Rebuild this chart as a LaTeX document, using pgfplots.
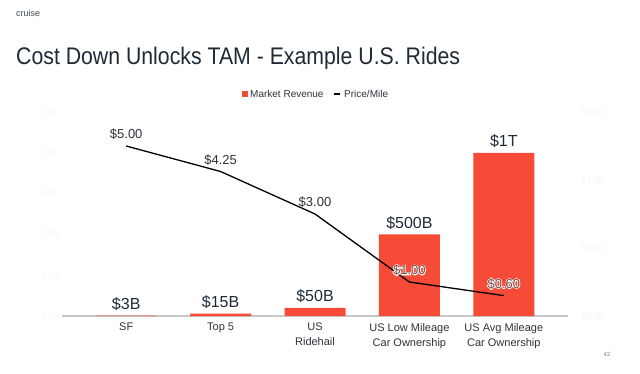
\documentclass[border=0pt]{standalone}
\usepackage{pgfplots}
\pgfplotsset{compat=1.18}
\usepackage{fontspec}
\setmainfont{Liberation Sans}
\definecolor{barred}{RGB}{246,76,55}
\definecolor{titlec}{RGB}{30,43,55}
\definecolor{lblc}{RGB}{45,52,60}
\definecolor{ghost}{RGB}{246,246,246}
\definecolor{axisgray}{RGB}{200,200,200}
\definecolor{onbar}{RGB}{115,72,66}
\newcommand{\halo}[1]{\makebox[0pt][l]{\special{pdf:literal direct 1 Tr 1.6 w 1 1 1 RG}#1\special{pdf:literal direct 0 Tr}}#1}
\begin{document}
\begin{tikzpicture}[x=1pt,y=1pt]
\useasboundingbox[fill=white] (0,0) rectangle (640,373);
\node[anchor=base west, inner sep=0, font=\fontsize{9}{10}\selectfont, text=titlec!85] at (16,356) {cruise};
\node[anchor=base west, inner sep=0, font=\fontsize{24}{28}\selectfont, text=titlec] at (16,308) {\scalebox{0.886}[1]{Cost Down Unlocks TAM - Example U.S. Rides}};
% legend
\fill[barred] (242,276) rectangle (248,282);
\node[anchor=base west, inner sep=0, font=\fontsize{10}{12}\selectfont, text=lblc] at (250,275.5) {Market Revenue};
\draw[black, line width=1.3pt] (334,279) -- (340,279);
\node[anchor=base west, inner sep=0, font=\fontsize{10}{12}\selectfont, text=lblc] at (344,275.5) {Price/Mile};
\node[anchor=base, inner sep=0, font=\fontsize{6}{7}\selectfont, text=gray] at (607,17) {42};
\begin{axis}[
  at={(62pt,57pt)}, anchor=south west,
  scale only axis, width=506pt, height=204pt,
  xmin=-0.68, xmax=4.68, ymin=0, ymax=1.25,
  axis x line*=bottom, axis y line*=left,
  y axis line style={draw=none},
  x axis line style={draw=axisgray, line width=1.3pt, -},
  major tick length=0pt,
  xtick={0,1,2,3,4},
  xticklabels={SF, Top 5, {US\\Ridehail}, {US Low Mileage\\Car Ownership}, {US Avg Mileage\\Car Ownership}},
  xticklabel style={font=\fontsize{11}{15}\selectfont, text=lblc, align=center, inner sep=0pt, yshift=-7pt},
  ytick={0,0.25,0.5,0.75,1,1.25},
  yticklabel style={font=\fontsize{9}{10}\selectfont, text=ghost, /pgf/number format/fixed, /pgf/number format/fixed zerofill, /pgf/number format/precision=2},
  /pgf/number format/assume math mode=true,
  clip=false,
]
\addplot[ybar, bar width=61pt, fill=barred, draw=none,
  nodes near coords, point meta=explicit symbolic,
  nodes near coords style={font=\fontsize{16}{18}\selectfont, text=titlec, anchor=base, inner sep=0pt, yshift=6pt}]
  coordinates {(0,0.003) [\$3B] (1,0.015) [\$15B] (2,0.05) [\$50B] (3,0.5) [\$500B] (4,1.0) [\$1T]};
\end{axis}
\begin{axis}[
  at={(62pt,57pt)}, anchor=south west,
  scale only axis, width=506pt, height=204pt,
  xmin=-0.68, xmax=4.68, ymin=0, ymax=6,
  axis x line=none, axis y line*=right,
  y axis line style={draw=none},
  major tick length=0pt,
  ytick={0,2,4,6},
  yticklabels={\$0.00,\$2.00,\$4.00,\$6.00},
  yticklabel style={font=\fontsize{9}{10}\selectfont, text=ghost, xshift=10pt},
  clip=false,
]
\addplot[black, line width=1.3pt, mark=none,
  nodes near coords, point meta=explicit symbolic,
  nodes near coords style={font=\fontsize{13}{15}\selectfont, anchor=base, inner sep=0pt, yshift=7.5pt}]
  coordinates {(0,5) [\textcolor{lblc}{\$5.00}] (1,4.25) [\textcolor{lblc}{\$4.25}] (2,3) [\textcolor{lblc}{\$3.00}] (3,1) [\textcolor{onbar}{\halo{\$1.00}}] (4,0.6) [\textcolor{onbar}{\halo{\$0.60}}]};
\end{axis}
\end{tikzpicture}
\end{document}
